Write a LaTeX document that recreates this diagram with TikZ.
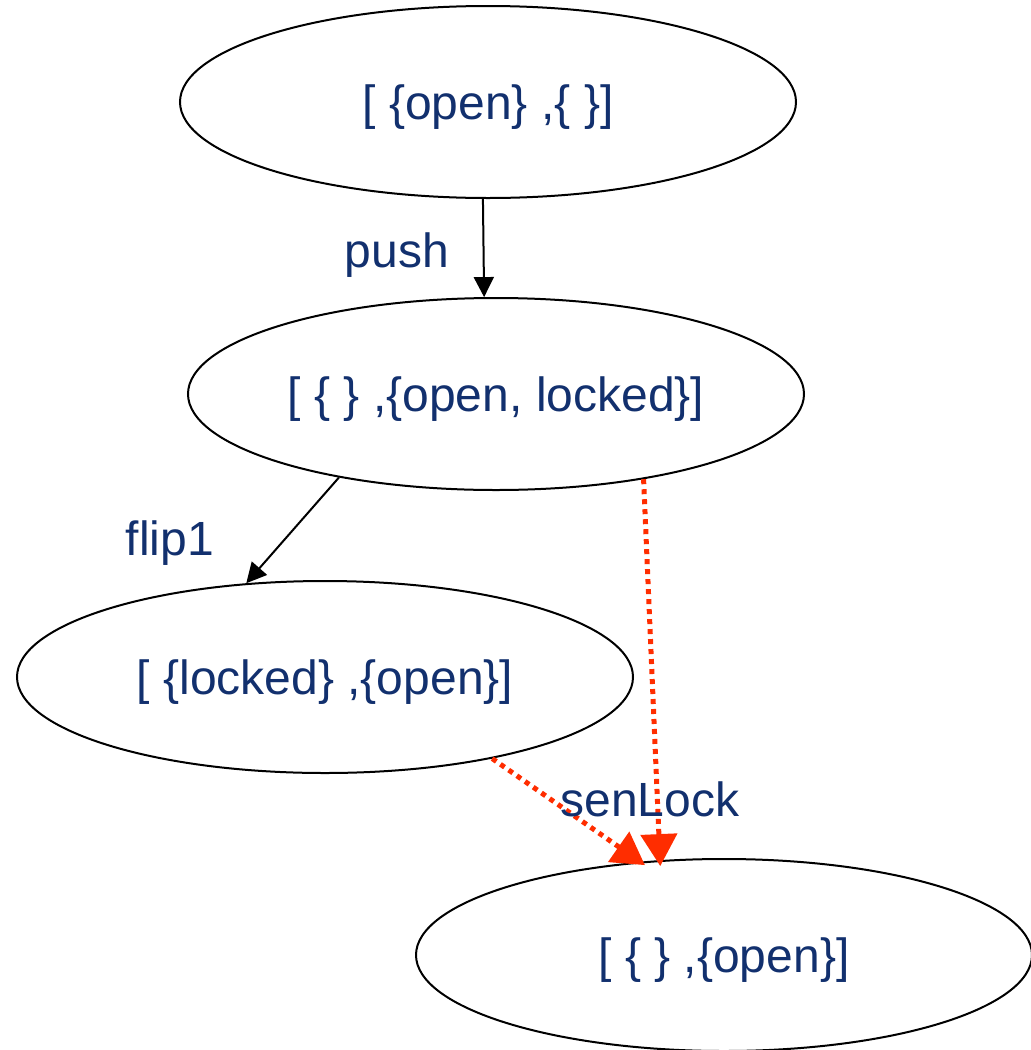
\documentclass[tikz,border=0pt]{standalone}
\usepackage{fontspec}
\setmainfont{Liberation Sans}
\usetikzlibrary{shapes.geometric,arrows.meta}
\definecolor{navy}{RGB}{18,48,110}
\definecolor{redline}{RGB}{255,45,0}
\begin{document}
\begin{tikzpicture}[x=0.5pt,y=-0.5pt,
  state/.style={ellipse,draw=black,line width=1pt,minimum width=308pt,minimum height=96pt,inner sep=0pt,text depth=0pt,text=navy,font=\fontsize{24}{28}\selectfont},
  lbl/.style={text=navy,font=\fontsize{24}{28}\selectfont,inner sep=0pt},
  solidedge/.style={draw=black,line width=1pt,-{Triangle[length=10pt,width=10pt]}},
  dotedge/.style={draw=redline,line width=2.5pt,dash pattern=on 2.5pt off 2.5pt,shorten >=-3pt,-{Triangle[length=16pt,width=18pt]}}]
\useasboundingbox (0,0) rectangle (1031,1050);
\node[state] (s1) at (488,102) {[ \{open\} ,\{ \}]};
\node[state] (s2) at (496,394) {[ \{ \} ,\{open, locked\}]};
\node[state] (s3) at (325,677) {[ \{locked\} ,\{open\}]};
\node[state] (s4) at (724,955) {[ \{ \} ,\{open\}]};
\draw[solidedge] (s1.267.6) -- (s2.97);
\draw[solidedge] (s2.208.7) -- (s3.130.3);
\draw[dotedge] (s2.330.5) -- (s4.124.9);
\draw[dotedge] (s3.334.1) -- (s4.132.1);
\node[lbl] (l1) at (397,255) {push};
\node[lbl] (l2) at (170,543) {flip1};
\node[lbl] (l3) at (650,799) {senLock};
\end{tikzpicture}
\end{document}
